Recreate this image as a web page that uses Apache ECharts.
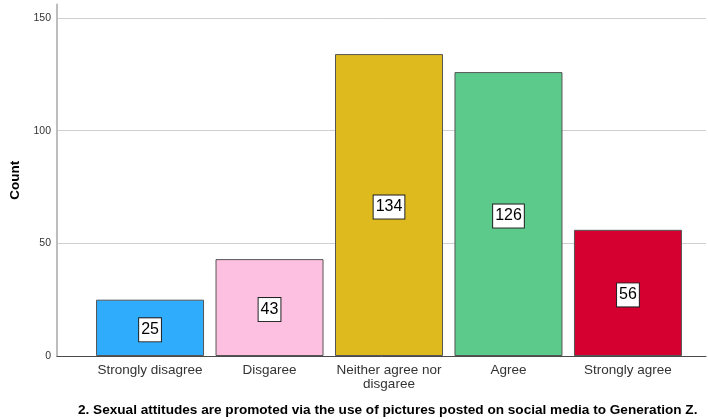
<!DOCTYPE html>
<html>
<head>
<meta charset="utf-8">
<script src="https://cdn.jsdelivr.net/npm/echarts@6/dist/echarts.min.js"></script>
<style>
  html, body { margin: 0; padding: 0; background: #fff; }
  #chart { width: 708px; height: 419px; }
</style>
</head>
<body>
<div id="chart"></div>
<script>
// Response categories and counts
const categories = ['Strongly disagree', 'Disgaree', 'Neither agree nor\ndisgaree', 'Agree', 'Strongly agree'];
const counts = [25, 43, 134, 126, 56];
const barColors = ['#30acfc', '#fdc0e0', '#dfba1f', '#5bca8b', '#d50030'];
const yTicks = [0, 50, 100, 150];
const yMax = 156;
const titleText = '2. Sexual attitudes are promoted via the use of pictures posted on social media to Generation Z.';

const FONT = '"Liberation Sans", Arial, sans-serif';
const TOP = 4.5, BOTTOM = 63;

const chart = echarts.init(document.getElementById('chart'), null, { renderer: 'canvas' });

chart.setOption({
  animation: false,
  backgroundColor: '#ffffff',
  title: {
    text: titleText,
    left: 78,
    top: 403,
    padding: 0,
    textStyle: { fontFamily: FONT, fontSize: 13.6, fontWeight: 'bold', color: '#000' }
  },
  grid: [
    // frame grid: y axis, gridlines and baseline
    { left: 57, right: 2, top: TOP, bottom: BOTTOM },
    // bar grid: categories
    { left: 90.3, width: 597.4, top: TOP, bottom: BOTTOM }
  ],
  xAxis: [
    {
      gridIndex: 0, type: 'value', min: 0, max: 1,
      axisLine: { show: true, lineStyle: { color: '#4a4a4a', width: 1 } },
      axisTick: { show: false }, axisLabel: { show: false }, splitLine: { show: false }
    },
    {
      gridIndex: 1, type: 'category', data: categories,
      axisLine: { show: false }, axisTick: { show: false },
      axisLabel: {
        interval: 0, margin: 7, fontFamily: FONT, fontSize: 13.5, color: '#333',
        lineHeight: 14
      }
    }
  ],
  yAxis: [
    {
      gridIndex: 0, type: 'value', min: 0, max: yMax, interval: 50,
      name: 'Count', nameLocation: 'middle', nameGap: 31, nameRotate: 90,
      nameTextStyle: { fontFamily: FONT, fontSize: 13.5, fontWeight: 'bold', color: '#000' },
      axisLine: { show: true, lineStyle: { color: '#bdbdbd', width: 2 } },
      axisTick: { show: false },
      axisLabel: {
        fontFamily: FONT, fontSize: 10.5, color: '#333', margin: 6,
        formatter: v => (yTicks.indexOf(v) >= 0 ? String(v) : '')
      },
      splitLine: {
        show: true,
        lineStyle: { color: ['#cfcfcf', '#cfcfcf', '#cfcfcf', '#cfcfcf', 'rgba(0,0,0,0)'], width: 1 }
      }
    },
    {
      gridIndex: 1, type: 'value', min: 0, max: yMax, show: false
    }
  ],
  series: [
    {
      type: 'bar',
      xAxisIndex: 1, yAxisIndex: 1,
      barWidth: 108,
      data: counts.map((v, i) => ({
        value: v,
        itemStyle: { color: barColors[i], borderColor: '#555', borderWidth: 1 }
      })),
      label: {
        show: true,
        position: 'inside',
        offset: [0, 2],
        fontFamily: FONT, fontSize: 16, color: '#000',
        backgroundColor: '#fff', borderColor: '#222', borderWidth: 1,
        padding: [4, 2, 3, 2]
      }
    }
  ]
});
</script>
</body>
</html>
